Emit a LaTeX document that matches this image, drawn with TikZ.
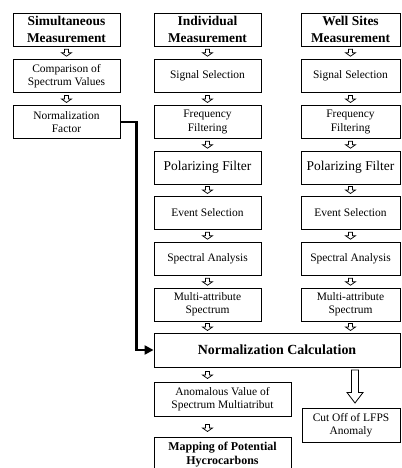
\documentclass[tikz,border=0pt]{standalone}
\usepackage{fontspec}
\setmainfont{Liberation Serif}
\usetikzlibrary{calc,arrows.meta}

\tikzset{
	box/.style={draw, line width=0.9bp, minimum width=107bp, minimum height=33bp,
		inner sep=1bp, align=center, font=\fontsize{11.5}{13.5}\selectfont},
	titlebox/.style={box, font=\fontsize{13.5}{17}\selectfont\bfseries},
	bigbox/.style={box, font=\fontsize{13.5}{15}\selectfont},
	smallarrow/.pic={
		\draw[line width=0.7bp, fill=white] (-2,-3.5) -- (2,-3.5) -- (2,0) -- (5,0)
			-- (0,3.5) -- (-5,0) -- (-2,0) -- cycle;
	},
	bigarrow/.pic={
		\draw[line width=0.8bp, fill=white] (-3.5,-16.5) -- (3.5,-16.5) -- (3.5,6)
			-- (8,6) -- (0,16.5) -- (-8,6) -- (-3.5,6) -- cycle;
	},
}

\begin{document}
\begin{tikzpicture}[x=1bp, y=-1bp]

	% ---- parameters

	\def\colA{66.5}
	\def\colB{207.5}
	\def\colC{350.5}

	\useasboundingbox (0,0) rectangle (401,468);

	% ---- left column

	\node[titlebox] (sim) at (\colA,29.5) {Simultaneous\\Measurement};
	\node[box] (comp) at (\colA,76) {Comparison of\\Spectrum Values};
	\node[box] (nf) at (\colA,122) {Normalization\\Factor};

	% ---- middle column

	\node[titlebox] (ind) at (\colB,29.5) {Individual\\Measurement};
	\node[box] (sigB) at (\colB,76) {Signal Selection};
	\node[box] (freqB) at (\colB,122) {Frequency\\Filtering};
	\node[bigbox] (polB) at (\colB,167.5) {Polarizing Filter};
	\node[box] (evB) at (\colB,212.5) {Event Selection};
	\node[box] (specB) at (\colB,259) {Spectral Analysis};
	\node[box] (multB) at (\colB,304.5) {Multi-attribute\\Spectrum};

	% ---- right column

	\node[titlebox, minimum width=99bp] (well) at (\colC,29.5) {Well Sites\\Measurement};
	\node[box, minimum width=99bp] (sigC) at (\colC,76) {Signal Selection};
	\node[box, minimum width=99bp] (freqC) at (\colC,122) {Frequency\\Filtering};
	\node[bigbox, minimum width=99bp] (polC) at (\colC,167.5) {Polarizing Filter};
	\node[box, minimum width=99bp] (evC) at (\colC,212.5) {Event Selection};
	\node[box, minimum width=99bp] (specC) at (\colC,259) {Spectral Analysis};
	\node[box, minimum width=99bp] (multC) at (\colC,304.5) {Multi-attribute\\Spectrum};

	% ---- bottom

	\node[box, minimum width=246bp, minimum height=34bp,
		font=\fontsize{14}{16}\selectfont\bfseries] (nc) at (277,350) {Normalization Calculation};
	\node[box, minimum width=137bp, minimum height=34bp] (anom) at (222.5,399)
		{Anomalous Value of\\Spectrum Multiatribut};
	\node[box, minimum width=137bp, minimum height=35bp,
		font=\fontsize{12}{14.5}\selectfont\bfseries] (map) at (222.5,454.5)
		{Mapping of Potential\\Hycrocarbons};
	\node[box, minimum width=98bp, minimum height=34bp] (cut) at (351,425)
		{Cut Off of LFPS\\Anomaly};

	% ---- small arrows

	\foreach \a/\b in {sim/comp, comp/nf,
		ind/sigB, sigB/freqB, freqB/polB, polB/evB, evB/specB, specB/multB,
		well/sigC, sigC/freqC, freqC/polC, polC/evC, evC/specC, specC/multC} {
		\pic at ($(\a.south)!0.5!(\b.north)$) {smallarrow};
	}

	\pic at (\colB,327) {smallarrow};
	\pic at (\colC,327) {smallarrow};
	\pic at (\colB,375) {smallarrow};
	\pic at (\colB,428) {smallarrow};

	\pic at (355,386.5) {bigarrow};

	% ---- factor to calculation

	\draw[line width=2.6bp, -{Triangle[length=9bp, width=9bp]}]
		(nf.east) -- ++(16,0) |- (nc.west);

\end{tikzpicture}
\end{document}
